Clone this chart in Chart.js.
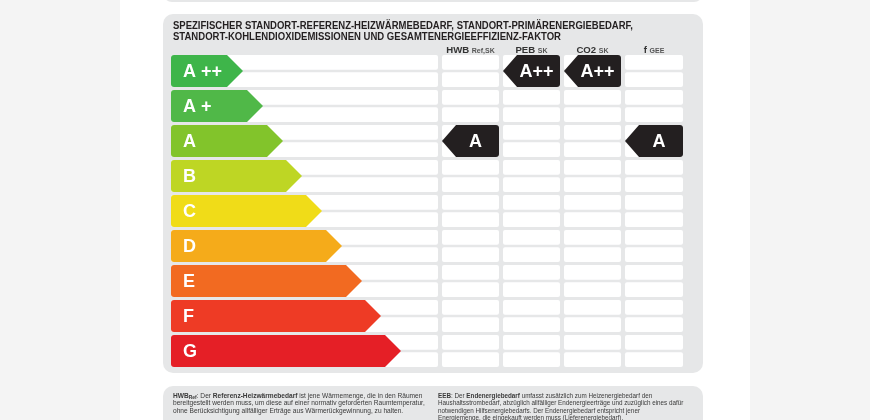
<!DOCTYPE html>
<html>
<head>
<meta charset="utf-8">
<script src="https://cdn.jsdelivr.net/npm/chart.js@4.4.1/dist/chart.umd.min.js"></script>
<style>
  html, body { margin: 0; padding: 0; background: #fff; }
  canvas { display: block; }
</style>
</head>
<body>
<canvas id="chart" width="870" height="420"></canvas>
<script>
/* Energy classes and how far each arrow reaches on the x scale */
const classLabels = ["A++", "A+", "A", "B", "C", "D", "E", "F", "G"];
const classTexts = ["A ++", "A +", "A", "B", "C", "D", "E", "F", "G"];
const classReach = [72, 92, 112, 131, 151, 171, 191, 210, 230];

/* Rating columns and the class each one was given */
const columnNames = ["HWB", "PEB", "CO2", "f"];
const columnSubs = ["Ref,SK", "SK", "SK", "GEE"];
const columnRatings = ["A", "A++", "A++", "A"];

const titleLines = [
  "SPEZIFISCHER STANDORT-REFERENZ-HEIZWÄRMEBEDARF, STANDORT-PRIMÄRENERGIEBEDARF,",
  "STANDORT-KOHLENDIOXIDEMISSIONEN UND GESAMTENERGIEEFFIZIENZ-FAKTOR"
];

/* Footnotes: [text, bold, subscript] runs per line */
const noteLeft = [
  [["HWB", 1], ["Ref", 1, 1], [": Der "], ["Referenz-Heizwärmebedarf", 1], [" ist jene Wärmemenge, die in den Räumen"]],
  [["bereitgestellt werden muss, um diese auf einer normativ geforderten Raumtemperatur,"]],
  [["ohne Berücksichtigung allfälliger Erträge aus Wärmerückgewinnung, zu halten."]]
];
const noteRight = [
  [["EEB", 1], [": Der "], ["Endenergiebedarf", 1], [" umfasst zusätzlich zum Heizenergiebedarf den"]],
  [["Haushaltsstrombedarf, abzüglich allfälliger Endenergieerträge und zuzüglich eines dafür"]],
  [["notwendigen Hilfsenergiebedarfs. Der Endenergiebedarf entspricht jener"]],
  [["Energiemenge, die eingekauft werden muss (Lieferenergiebedarf)."]]
];

const classColors = ["#3eb54a", "#50b848", "#82c42b", "#bed624", "#f0dc18",
  "#f5ab1a", "#f26a21", "#ee3b25", "#e51f26"];

/* x scale layout: one long cell, then four rating columns */
const SCALE_MAX = 512;
const longCellEnd = 267;
const columnStart = [271, 332, 393, 454];
const columnEnd = [328, 389, 450, 512];
const BAR_PCT = 0.914;
const FONT = "'Liberation Sans', Arial, sans-serif";
const INK = "#231f20";

function ratingData(col) {
  return classLabels.map(c =>
    c === columnRatings[col] ? [columnStart[col], columnEnd[col]] : null
  );
}

function rowHeight(chart) {
  const y = chart.scales.y;
  return (y.getPixelForValue(1) - y.getPixelForValue(0)) * BAR_PCT;
}

function drawRuns(ctx, runs, x, y, size) {
  let cx = x;
  runs.forEach(r => {
    const fs = r[2] ? size * 0.75 : size;
    ctx.font = `${r[1] ? "bold " : ""}${fs}px ${FONT}`;
    ctx.fillText(r[0], cx, r[2] ? y + 1 : y);
    cx += ctx.measureText(r[0]).width;
  });
}

const backgroundPlugin = {
  id: "background",
  beforeDraw(chart) {
    const { ctx } = chart;
    const x = chart.scales.x;
    const y = chart.scales.y;
    ctx.save();
    /* page */
    ctx.fillStyle = "#f4f4f4";
    ctx.fillRect(0, 0, 870, 420);
    ctx.fillStyle = "#ffffff";
    ctx.fillRect(120, 0, 630, 420);

    /* panels */
    ctx.fillStyle = "#e6e7e8";
    ctx.beginPath();
    ctx.roundRect(163, -30, 540, 32, 9);
    ctx.fill();
    ctx.beginPath();
    ctx.roundRect(163, 14, 540, 359, 10);
    ctx.fill();
    ctx.beginPath();
    ctx.roundRect(163, 386, 540, 60, 10);
    ctx.fill();

    /* title */
    ctx.fillStyle = INK;
    ctx.textBaseline = "alphabetic";
    ctx.font = `bold 10px ${FONT}`;
    ctx.fillText(titleLines[0], 173, 29, 460);
    ctx.fillText(titleLines[1], 173, 40, 388);

    /* column headers */
    columnNames.forEach((name, i) => {
      const cx = (x.getPixelForValue(columnStart[i]) + x.getPixelForValue(columnEnd[i])) / 2;
      ctx.font = `bold 9.6px ${FONT}`;
      const w1 = ctx.measureText(name + " ").width;
      ctx.font = `bold 7px ${FONT}`;
      const w2 = ctx.measureText(columnSubs[i]).width;
      const sx = cx - (w1 + w2) / 2;
      ctx.fillStyle = "#333";
      ctx.font = `bold 9.6px ${FONT}`;
      ctx.fillText(name, sx, 52.5);
      ctx.fillStyle = "#555";
      ctx.font = `bold 7px ${FONT}`;
      ctx.fillText(columnSubs[i], sx + w1, 52.5);
    });

    /* white cells, two per row and column */
    const h = rowHeight(chart);
    const spans = [[0, longCellEnd]].concat(columnStart.map((s, i) => [s, columnEnd[i]]));
    ctx.fillStyle = "#ffffff";
    classLabels.forEach((c, i) => {
      const cy = y.getPixelForValue(i);
      spans.forEach(([a, b]) => {
        const x0 = x.getPixelForValue(a);
        const x1 = x.getPixelForValue(b);
        ctx.beginPath();
        ctx.roundRect(x0, cy - h / 2, x1 - x0, h / 2 - 1.2, 2);
        ctx.fill();
        ctx.beginPath();
        ctx.roundRect(x0, cy + 1.2, x1 - x0, h / 2 - 1.2, 2);
        ctx.fill();
      });
    });

    /* footnotes */
    ctx.fillStyle = "#3a3a3a";
    noteLeft.forEach((line, i) => drawRuns(ctx, line, 173, 398 + i * 7.4, 6.6));
    noteRight.forEach((line, i) => drawRuns(ctx, line, 438, 398 + i * 7.4, 6.3));
    ctx.restore();
  }
};

const arrowPlugin = {
  id: "arrows",
  afterDatasetsDraw(chart) {
    const { ctx } = chart;
    ctx.save();
    ctx.textBaseline = "middle";

    /* class arrows pointing right */
    chart.getDatasetMeta(0).data.forEach((bar, i) => {
      const top = bar.y - bar.height / 2;
      const bot = bar.y + bar.height / 2;
      const tip = 16;
      const r = 3;
      ctx.fillStyle = classColors[i];
      ctx.beginPath();
      ctx.moveTo(bar.base + r, top);
      ctx.lineTo(bar.x - tip, top);
      ctx.lineTo(bar.x, bar.y);
      ctx.lineTo(bar.x - tip, bot);
      ctx.lineTo(bar.base + r, bot);
      ctx.quadraticCurveTo(bar.base, bot, bar.base, bot - r);
      ctx.lineTo(bar.base, top + r);
      ctx.quadraticCurveTo(bar.base, top, bar.base + r, top);
      ctx.fill();
      ctx.fillStyle = "#ffffff";
      ctx.font = `bold 18px ${FONT}`;
      ctx.textAlign = "left";
      ctx.fillText(classTexts[i], bar.base + 12, bar.y + 1);
    });

    /* rating markers pointing left */
    columnNames.forEach((n, col) => {
      chart.getDatasetMeta(col + 1).data.forEach((bar, i) => {
        if (chart.data.datasets[col + 1].data[i] === null) return;
        const top = bar.y - bar.height / 2;
        const bot = bar.y + bar.height / 2;
        const tip = 14;
        const r = 3;
        ctx.fillStyle = INK;
        ctx.beginPath();
        ctx.moveTo(bar.base, bar.y);
        ctx.lineTo(bar.base + tip, top);
        ctx.lineTo(bar.x - r, top);
        ctx.quadraticCurveTo(bar.x, top, bar.x, top + r);
        ctx.lineTo(bar.x, bot - r);
        ctx.quadraticCurveTo(bar.x, bot, bar.x - r, bot);
        ctx.lineTo(bar.base + tip, bot);
        ctx.closePath();
        ctx.fill();
        ctx.fillStyle = "#ffffff";
        ctx.font = `bold 18px ${FONT}`;
        ctx.textAlign = "center";
        ctx.fillText(columnRatings[col], (bar.base + tip + bar.x) / 2 - 2, bar.y + 1);
      });
    });
    ctx.restore();
  }
};

const hidden = "rgba(0,0,0,0)";
const datasets = [
  {
    label: "Klassen",
    data: classReach.map(v => [0, v]),
    backgroundColor: hidden
  }
].concat(columnNames.map((n, col) => ({
  label: n,
  data: ratingData(col),
  backgroundColor: hidden
})));

new Chart(document.getElementById("chart").getContext("2d"), {
  type: "bar",
  data: { labels: classLabels, datasets },
  options: {
    responsive: false,
    animation: false,
    indexAxis: "y",
    grouped: false,
    barPercentage: BAR_PCT,
    categoryPercentage: 1,
    layout: { padding: { left: 171, right: 187, top: 53.5, bottom: 51.5 } },
    scales: {
      x: { type: "linear", min: 0, max: SCALE_MAX, display: false },
      y: { type: "category", display: false, offset: true }
    },
    plugins: { legend: { display: false }, tooltip: { enabled: false } },
    events: []
  },
  plugins: [backgroundPlugin, arrowPlugin]
});
</script>
</body>
</html>
